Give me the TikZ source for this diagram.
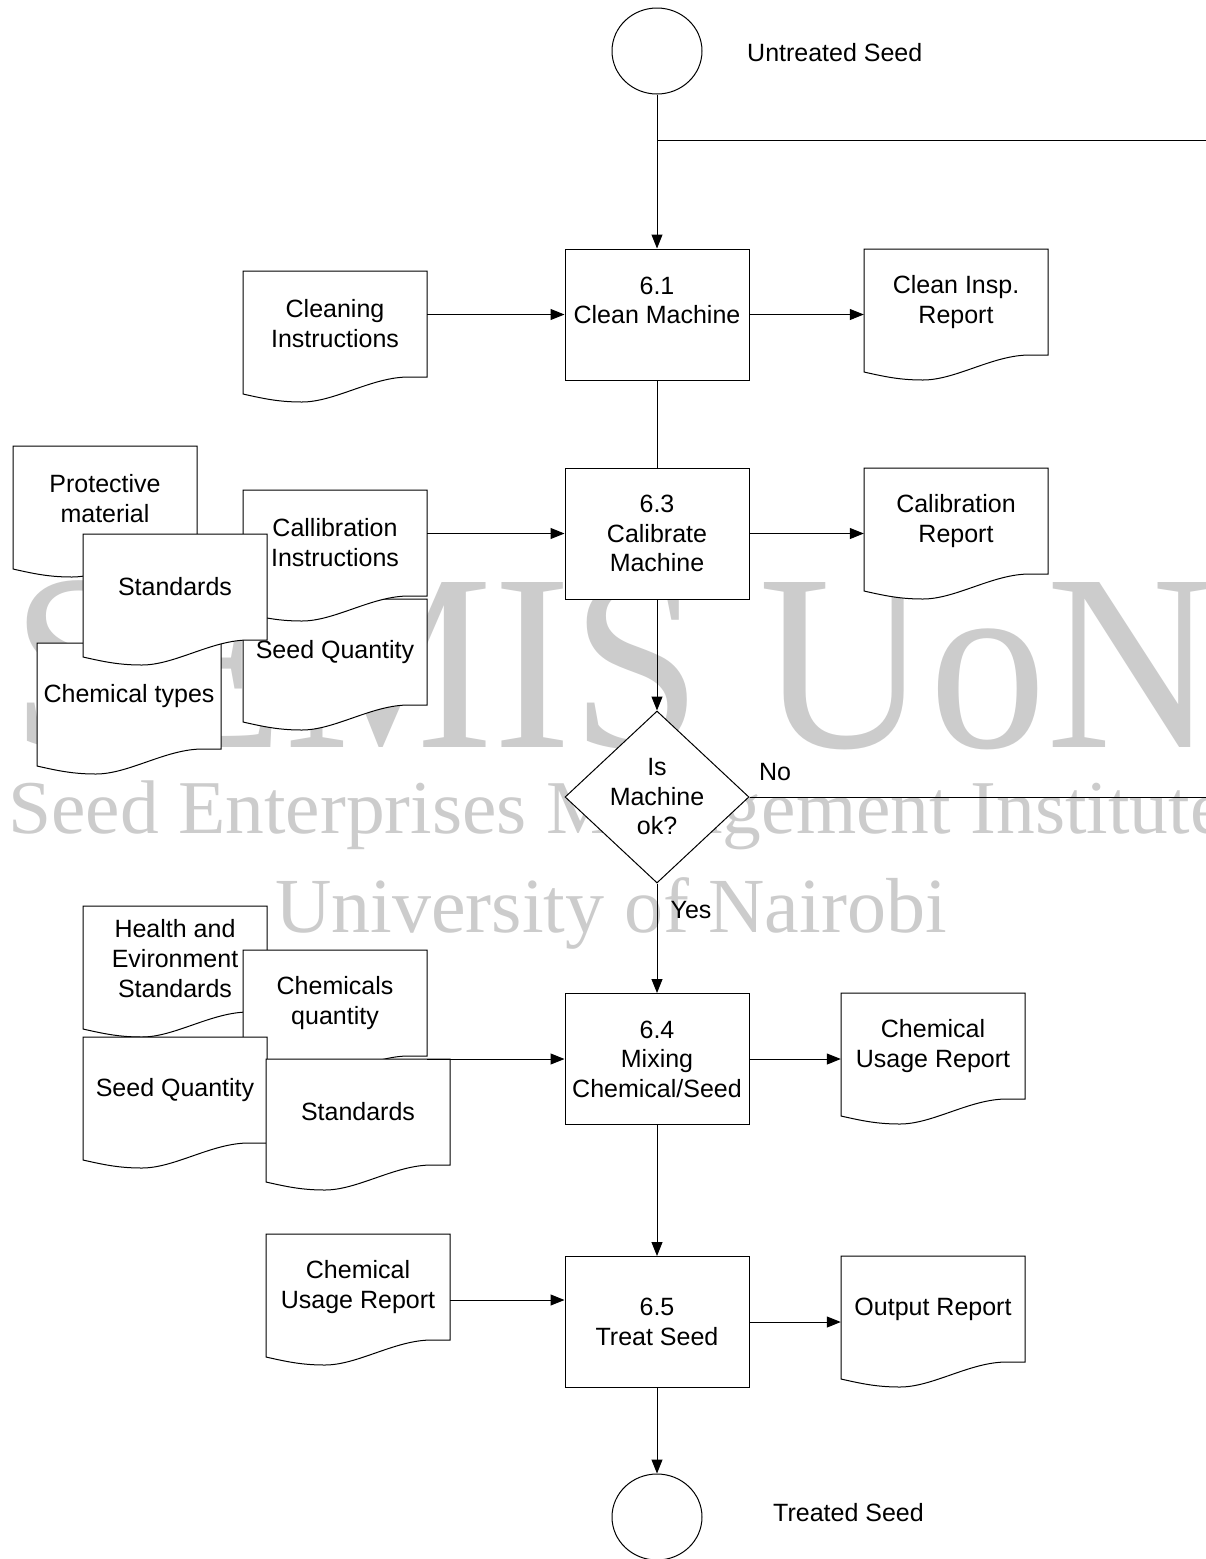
\documentclass[tikz,border=0pt]{standalone}
\usepackage{fontspec}
\setmainfont{Liberation Sans}
\newfontfamily\wmfont{Liberation Serif}
\usepackage{graphicx}
\usetikzlibrary{arrows.meta,shapes.geometric,calc}
\definecolor{wmgray}{RGB}{204,204,204}
\tikzset{
 ln/.style={line width=1pt, draw=black},
 arr/.style={ln, -{Triangle[length=14pt,width=11pt]}},
 procbox/.style={draw, fill=white, line width=1pt, minimum width=184pt, minimum height=131pt, inner sep=0pt, align=center, font=\fontsize{25}{29.5}\selectfont},
 doctext/.style={minimum width=184pt, minimum height=106pt, inner sep=0pt, align=center, font=\fontsize{25}{30}\selectfont},
 docshape/.style={draw, fill=white, line width=1pt},
 lbl/.style={inner sep=0pt, font=\fontsize{25}{30}\selectfont},
 terminal/.style={draw, ellipse, line width=1pt, minimum width=90pt, minimum height=86pt, inner sep=0pt, fill=white},
 wm/.style={inner sep=0pt, anchor=base west, text=wmgray},
 decision/.style={diamond, draw, fill=white, line width=1pt, minimum width=184pt, minimum height=172pt, inner sep=0pt},
}
\newcommand\docnode[4]{%
 \begin{scope}[shift={(#2,#3)}]
  \filldraw[docshape] (0,0) -- (184,0) -- (184,106) -- (165.6,106) .. controls (128.8,106) and (92,131) .. (58.9,131) .. controls (36.8,131) and (22,128) .. (0,123) -- cycle;
  \node[doctext] (#1) at (92,53) {#4};
 \end{scope}}
\begin{document}
\begin{tikzpicture}[x=1pt,y=-1pt]
\useasboundingbox (0,0) rectangle (1206,1559);
\clip (0,0) rectangle (1206,1559);
\fill[white] (0,0) rectangle (1206,1559);
% watermark
\node[wm, font=\wmfont\fontsize{252}{252}\selectfont] (wm1) at (11,747) {\scalebox{0.93}[1]{SEMIS UoN}};
\node[wm, font=\wmfont\fontsize{76}{76}\selectfont] (wm2) at (8,833) {\scalebox{1.02}[1]{Seed Enterprises Management Institute}};
\node[wm, font=\wmfont\fontsize{78}{78}\selectfont] (wm3) at (275,932) {University of Nairobi};

% terminals
\node[terminal] (start) at (657,51) {};
\node[terminal] (stop) at (657,1517) {};
\node[lbl, anchor=west] (startl) at (747,53) {Untreated Seed};
\node[lbl, anchor=west] (stopl) at (773,1513) {Treated Seed};

% process boxes
\node[procbox] (b61) at (657,314.5) {6.1\\Clean Machine\\[-10pt]\strut};
\node[procbox] (b63) at (657,533.5) {6.3\\Calibrate\\Machine};
\node[procbox] (b64) at (657,1059) {6.4\\Mixing\\Chemical/Seed};
\node[procbox] (b65) at (657,1322) {6.5\\Treat Seed};

% decision
\node[decision] (dec) at (657,797) {};
\node[lbl, align=center, font=\fontsize{25}{29.5}\selectfont] (dect) at (dec.center) {Is\\Machine\\ok?};
\node[lbl] (nol) at (775,772) {No};
\node[lbl] (yesl) at (691,910) {Yes};

% documents
\docnode{ci}{243}{271}{Cleaning\\Instructions}
\docnode{cir}{864}{249}{Clean Insp.\\Report}
\docnode{pm}{13}{446}{Protective\\material}
\docnode{ct}{37}{643}{Chemical types}
\docnode{sqa}{243}{599}{Seed Quantity}
\docnode{cal}{243}{490}{Callibration\\Instructions}
\docnode{sta}{83}{534}{Standards}
\docnode{cr}{864}{468}{Calibration\\Report}
\docnode{he}{83}{906}{Health and\\Evironment\\Standards}
\docnode{cq}{243}{950}{Chemicals\\quantity}
\docnode{sqb}{83}{1037}{Seed Quantity}
\docnode{stb}{266}{1059}{Standards}
\docnode{cur}{841}{993}{Chemical\\Usage Report}
\docnode{cul}{266}{1234}{Chemical\\Usage Report}
\docnode{outr}{841}{1256}{Output Report}

% connectors
\coordinate (j1) at (657,140);
\coordinate (e1) at (1206,140);
\coordinate (e2) at (1206,797);
\draw[arr] (start) -- (b61);
\draw[ln] (j1) -- (e1);
\draw[ln] (b61) -- (b63);
\draw[arr] (b63) -- (dec);
\draw[ln] (dec.east) -- (e2);
\draw[arr] (dec) -- (b64);
\draw[arr] (b64) -- (b65);
\draw[arr] (b65) -- (stop);

\draw[arr] (b61.west -| ci.east) -- (b61.west);
\draw[arr] (b61.east) -- (b61.east -| cir.west);
\draw[arr] (b63.west -| cal.east) -- (b63.west);
\draw[arr] (b63.east) -- (b63.east -| cr.west);
\draw[arr] (b64.west -| cq.east) -- (b64.west);
\draw[arr] (b64.east) -- (b64.east -| cur.west);
\draw[arr] ($(cul.east)+(0,13)$) -- ($(b65.west |- cul.east)+(0,13)$);
\draw[arr] (b65.east) -- (b65.east -| outr.west);
\end{tikzpicture}
\end{document}
